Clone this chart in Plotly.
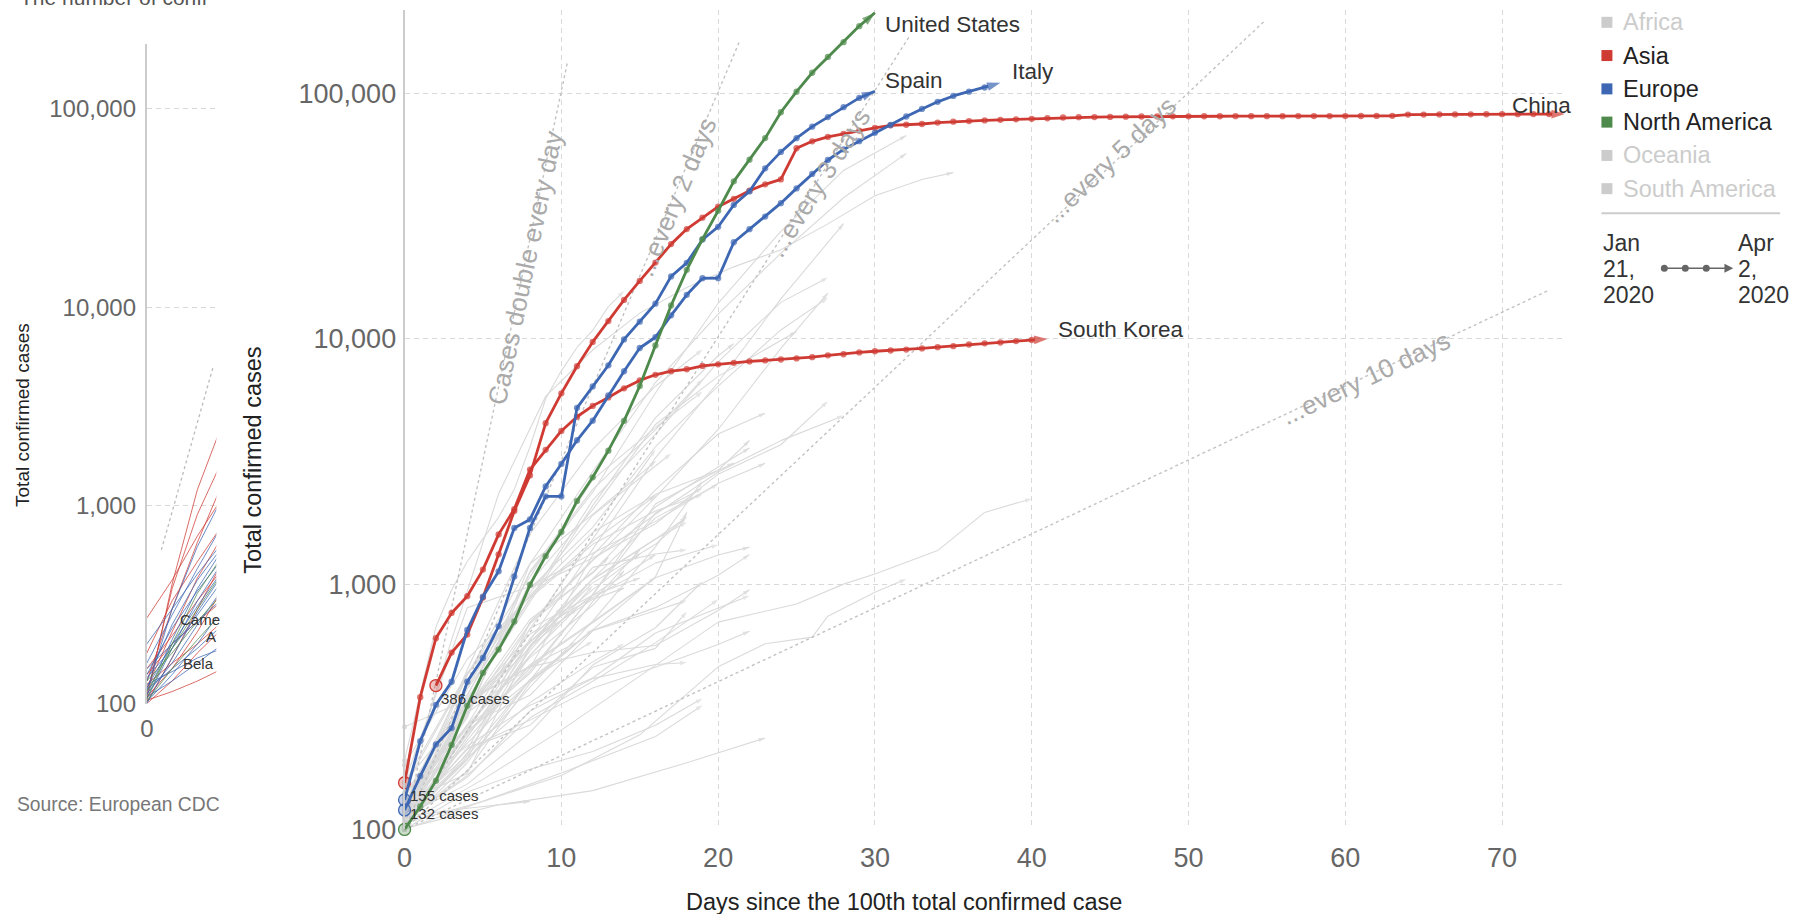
import math
import plotly.graph_objects as go

# ---------------------------------------------------------------- data
x_tick_vals = [0, 10, 20, 30, 40, 50, 60, 70]
y_tick_vals = [100, 1000, 10000, 100000]
y_tick_text = ["100", "1,000", "10,000", "100,000"]

china_start_day = 2
china_cases = [386, 526, 623, 882, 1323, 1988, 2775, 4528, 5994, 7734,
               9714, 11809, 14399, 17211, 20448, 24320, 28018, 31161, 34546, 37198,
               40171, 42638, 44653, 59804, 63851, 66492, 68500, 70548, 72436, 74185,
               74576, 75077, 76119, 76767, 77150, 77658, 78064, 78497, 78824, 79251,
               79824, 80026, 80151, 80270, 80409, 80552, 80651, 80695, 80735, 80754,
               80778, 80793, 80813, 80824, 80844, 80860, 80881, 80894, 80928, 80967,
               81008, 81054, 82020, 82078, 82130, 82180, 82230, 82280, 82330, 82370,
               82400, 82430, 82460]
south_korea_cases = [155, 346, 602, 763, 893, 1146, 1595, 2022, 2931, 3526,
                     4212, 4812, 5328, 5766, 6284, 6767, 7134, 7382, 7513, 7755,
                     7869, 7979, 8086, 8162, 8236, 8320, 8413, 8565, 8652, 8799,
                     8897, 8961, 9037, 9137, 9241, 9332, 9478, 9583, 9661, 9786,
                     9887, 9976]
italy_cases = [132, 229, 322, 400, 650, 888, 1128, 1694, 1835, 2502,
               3089, 3858, 4636, 5883, 7375, 9172, 10149, 12462, 15113, 17660,
               17660, 24747, 27980, 31506, 35713, 41035, 47021, 53578, 59138, 63927,
               69176, 74386, 80589, 86498, 92472, 97689, 101739, 105792, 110574]
spain_cases = [120, 165, 222, 259, 400, 500, 673, 1073, 1695, 2277,
               2277, 5232, 6391, 7798, 9942, 11748, 13910, 17963, 20410, 25374,
               28603, 35136, 39885, 49515, 57786, 65719, 73235, 80110, 87956, 95923,
               102136]
united_states_cases = [100, 124, 158, 221, 319, 435, 541, 704, 994, 1301,
                       1631, 2183, 2726, 3499, 4632, 6421, 9400, 13680, 19101, 25489,
                       33276, 43847, 53740, 65778, 83836, 101657, 121478, 140886, 161807, 188172,
                       213372]
start_labels = {"China": "386 cases", "South Korea": "155 cases", "Italy": "132 cases"}

# other countries (grey background): (days since 100th case, cases)
background_countries = {
    "Germany": ([0, 4, 8, 12, 16, 20, 24, 28, 32], [117, 349, 1112, 2369, 6012, 13957, 27436, 48582, 67366]),
    "France": ([0, 4, 8, 12, 16, 20, 24, 28, 32], [130, 285, 1209, 2876, 6633, 12612, 22302, 37575, 56989]),
    "Iran": ([0, 3, 6, 9, 12, 15, 18, 21, 24, 27, 30, 33, 35],
             [139, 593, 2336, 5823, 9000, 12729, 16169, 19644, 23049, 29406, 38309, 44605, 47593]),
    "United Kingdom": ([0, 4, 8, 12, 16, 20, 24, 28], [116, 319, 590, 1391, 3269, 6650, 14543, 29474]),
    "Switzerland": ([0, 4, 8, 12, 16, 20, 24, 27], [114, 374, 868, 2200, 4075, 8060, 14076, 17768]),
    "Netherlands": ([0, 4, 8, 12, 16, 20, 24, 27], [128, 382, 959, 1705, 3631, 6412, 10866, 14697]),
    "Belgium": ([0, 4, 8, 12, 16, 20, 24, 27], [109, 267, 689, 1243, 2257, 4269, 9134, 15348]),
    "Austria": ([0, 4, 8, 12, 16, 20, 25], [104, 302, 1018, 2013, 4474, 7029, 10711]),
    "Turkey": ([0, 1, 2, 3, 4, 5, 6, 7, 8, 9, 10, 11, 12, 13, 14],
               [191, 359, 670, 947, 1236, 1529, 1872, 2433, 3629, 5698, 7402, 9217, 10827, 13531, 15679]),
    "Canada": ([0, 4, 8, 12, 16, 20, 21], [103, 341, 846, 2088, 4757, 8527, 9560]),
    "Portugal": ([0, 4, 8, 12, 16, 19], [112, 448, 1600, 3544, 6408, 9034]),
    "Brazil": ([0, 4, 8, 12, 16, 19], [121, 291, 1128, 2433, 4256, 6836]),
    "Israel": ([0, 4, 8, 12, 16, 19], [126, 427, 1071, 2666, 4347, 6092]),
    "Australia": ([0, 4, 8, 12, 16, 20, 23], [107, 249, 454, 1314, 2423, 4093, 4976]),
    "Norway": ([0, 4, 8, 12, 16, 20, 24, 28], [108, 192, 702, 1256, 1926, 2866, 3845, 4863]),
    "Sweden": ([0, 4, 8, 12, 16, 20, 24, 27], [137, 355, 961, 1279, 1763, 2806, 3700, 5568]),
    "Denmark": ([0, 4, 8, 12, 16, 20, 23], [156, 801, 977, 1337, 1802, 2577, 3107]),
    "Malaysia": ([0, 4, 8, 12, 16, 20, 21], [149, 428, 900, 1624, 2320, 2908, 3116]),
    "Japan": ([0, 5, 10, 15, 20, 25, 28, 30, 34, 37, 40],
              [105, 160, 254, 420, 700, 830, 1000, 1100, 1370, 1960, 2230]),
    "Singapore": ([0, 5, 10, 15, 20, 23, 26, 27, 30, 32], [106, 130, 166, 243, 460, 571, 608, 740, 926, 1049]),
    "Czechia": ([0, 4, 8, 12, 16, 20, 22], [116, 298, 694, 1120, 2062, 3001, 3589]),
    "Ireland": ([0, 4, 8, 12, 16, 20, 22], [129, 169, 557, 906, 2121, 2910, 3849]),
    "Chile": ([0, 4, 8, 12, 16, 17], [155, 434, 922, 1909, 3031, 3404]),
    "Ecuador": ([0, 4, 8, 12, 16], [111, 426, 1211, 1924, 3163]),
    "Poland": ([0, 4, 8, 12, 16, 20], [103, 238, 536, 1051, 1862, 2554]),
    "Romania": ([0, 4, 8, 12, 16, 19], [123, 260, 433, 906, 1952, 2460]),
    "Luxembourg": ([0, 4, 8, 12, 16, 19], [135, 335, 875, 1453, 1988, 2319]),
    "Russia": ([0, 4, 8, 12, 16], [114, 253, 658, 1534, 3548]),
    "Philippines": ([0, 4, 8, 12, 16, 19], [111, 193, 380, 707, 1418, 2633]),
    "Pakistan": ([0, 4, 8, 12, 16], [183, 495, 887, 1495, 2291]),
    "Saudi Arabia": ([0, 4, 8, 12, 16, 18], [103, 238, 562, 1012, 1453, 1885]),
    "Thailand": ([0, 4, 8, 12, 16, 18], [114, 212, 599, 1045, 1524, 1875]),
    "Finland": ([0, 4, 8, 12, 16, 20], [155, 319, 626, 880, 1218, 1446]),
    "Greece": ([0, 4, 8, 12, 16, 20, 22], [117, 331, 464, 695, 1061, 1314, 1415]),
    "Indonesia": ([0, 4, 8, 12, 16, 18], [117, 309, 579, 1046, 1528, 1790]),
    "India": ([0, 4, 8, 12, 16, 18], [107, 173, 396, 649, 1071, 1965]),
    "South Africa": ([0, 4, 8, 12, 16, 18], [116, 202, 554, 1170, 1326, 1380]),
    "Mexico": ([0, 4, 8, 12, 15], [118, 251, 405, 848, 1378]),
    "Peru": ([0, 4, 8, 12, 15], [117, 318, 580, 950, 1323]),
    "Iceland": ([0, 4, 8, 12, 16, 20, 22], [103, 199, 409, 648, 802, 1086, 1319]),
    "Slovenia": ([0, 4, 8, 12, 16, 20, 22], [141, 219, 321, 414, 632, 802, 897]),
    "Estonia": ([0, 4, 8, 12, 16, 18], [115, 267, 352, 645, 779, 858]),
    "Qatar": ([0, 4, 8, 12, 16, 20, 22], [262, 337, 460, 526, 562, 781, 949]),
    "Bahrain": ([0, 4, 8, 12, 16, 20, 22], [110, 214, 279, 377, 458, 567, 643]),
    "Egypt": ([0, 4, 8, 12, 16, 20], [109, 166, 285, 402, 576, 865]),
    "Kuwait": ([0, 4, 8, 12, 16, 19], [100, 142, 176, 208, 266, 342]),
    "Iraq": ([0, 4, 8, 12, 16, 18], [110, 214, 266, 458, 547, 772]),
    "Lebanon": ([0, 4, 8, 12, 16, 18], [110, 163, 304, 412, 470, 479]),
    "Argentina": ([0, 4, 8, 12, 14], [128, 266, 502, 820, 1133]),
    "Colombia": ([0, 4, 8, 12, 16], [102, 231, 470, 702, 1065]),
    "Dominican Republic": ([0, 4, 8, 12, 13], [112, 312, 719, 1109, 1284]),
    "Panama": ([0, 4, 8, 12, 16], [109, 245, 443, 901, 1317]),
    "United Arab Emirates": ([0, 4, 8, 12, 16, 19], [113, 153, 248, 468, 664, 1024]),
    "Croatia": ([0, 4, 8, 12, 14], [105, 254, 586, 867, 963]),
    "Serbia": ([0, 4, 8, 12, 15], [103, 249, 659, 900, 1060]),
    "Hungary": ([0, 4, 8, 12], [103, 187, 408, 585]),
    "Algeria": ([0, 4, 8, 12], [139, 264, 511, 986]),
    "Morocco": ([0, 4, 8, 12], [115, 225, 402, 654]),
    "Ukraine": ([0, 4, 8, 10], [113, 310, 549, 804]),
    "Taiwan": ([0, 5, 10, 16, 19], [100, 130, 170, 239, 321]),
    "San Marino": ([0, 6, 12, 18, 23], [101, 126, 144, 187, 236]),
    "Vietnam": ([0, 4, 8], [113, 122, 130]),
    "Lithuania": ([0, 4, 8, 11], [131, 299, 460, 581]),
    "Armenia": ([0, 4, 8, 12, 14], [115, 194, 329, 482, 571]),
    "New Zealand": ([0, 4, 8, 11], [102, 205, 514, 797]),
}

# doubling-time guide lines
guide_labels = ["Cases double every day", "...every 2 days", "...every 3 days", "...every 5 days", "...every 10 days"]
guide_end_days = [10.4, 21.4, 32.2, 54.8, 73.0]
guide_end_values = [135000, 165000, 171000, 196000, 15800]
guide_label_days = [7.7, 17.3, 26.4, 45.0, 61.3]
guide_label_values = [19400, 38000, 43300, 53600, 6900]

# legend
continents = ["Africa", "Asia", "Europe", "North America", "Oceania", "South America"]
continent_shown = [False, True, True, True, False, False]
timeline_start = ["Jan", "21,", "2020"]
timeline_end = ["Apr", "2,", "2020"]

# partially hidden small chart on the left (days 0..6)
ghost_days = [0, 2, 4, 6]
ghost_red = [[105, 400, 1200, 2600], [110, 380, 900, 1700], [270, 420, 700, 1100], [130, 300, 650, 1300],
             [180, 330, 520, 800], [120, 230, 430, 700], [102, 170, 300, 520], [150, 220, 330, 480],
             [108, 150, 230, 380], [125, 160, 200, 260], [104, 115, 130, 150], [140, 200, 260, 330],
             [100, 130, 180, 240]]
ghost_blue = [[115, 300, 620, 1100], [160, 280, 480, 800], [200, 300, 450, 650], [130, 250, 420, 620],
              [110, 210, 380, 600], [140, 240, 370, 540], [105, 190, 330, 520], [120, 200, 310, 470],
              [100, 170, 290, 450], [135, 190, 280, 420], [112, 160, 250, 380], [150, 200, 260, 340],
              [102, 140, 200, 300], [118, 150, 190, 250], [108, 130, 160, 200], [125, 145, 170, 190]]
ghost_green = [[106, 200, 360, 560], [115, 190, 300, 460], [130, 180, 260, 360], [103, 150, 210, 290]]
ghost_guide_days = [1.15, 5.25]
ghost_guide_values = [596, 5000]
ghost_labels = ["Came", "A", "Bela"]

# ---------------------------------------------------------------- styling / layout
W, H = 1795, 930
FONT = "Liberation Sans, Arial, Helvetica, sans-serif"
RED, BLUE, GREEN = "#cf3a33", "#3d67b3", "#4e8a4b"
GREY_LINE = "#dadada"
FADED = "#cccccc"
continent_colors = [FADED, RED, BLUE, GREEN, FADED, FADED]

# the capture maps a page pixel (x, y) to about (KX*x + BX, KY*y); positions below are target
# (picture) pixels and are converted back to page pixels
KX, BX, KY = 0.9969, 6.4, 0.983


def dxp(x):
    return (x - BX) / KX


def dyp(y):
    return y / KY


def px(x):
    return dxp(x) / W


def py(y):
    return 1 - dyp(y) / H


# main plot geometry (target pixels)
X0, PX_DAY, XMAX = 403.5, 15.7, 74
Y100, PX_DEC, YTOP = 828.7, 245.1, 10
# ghost geometry
GX0, GX1, GXMAX = 145.4, 215.0, 5.5
GY100, GPX_DEC, GYTOP = 703.0, 198.07, 43.7


def rgba(hexcol, a):
    h = hexcol.lstrip("#")
    return "rgba(%d,%d,%d,%.2f)" % (int(h[0:2], 16), int(h[2:4], 16), int(h[4:6], 16), a)


fig = go.Figure()

# ---- ghost chart (left, partially hidden)
for group, col in ((ghost_red, rgba(RED, 0.75)), (ghost_blue, rgba(BLUE, 0.75)), (ghost_green, rgba(GREEN, 0.75))):
    for vals in group:
        fig.add_trace(go.Scatter(x=ghost_days, y=vals, mode="lines", xaxis="x2", yaxis="y2",
                                 line=dict(color=col, width=1), hoverinfo="skip", showlegend=False))
fig.add_trace(go.Scatter(x=ghost_guide_days, y=ghost_guide_values, mode="lines", xaxis="x2", yaxis="y2",
                         line=dict(color="#bbbbbb", width=1.3, dash="dot"), hoverinfo="skip", showlegend=False))

# ---- background countries
start_x, start_y = [], []
for name, (d, v) in background_countries.items():
    n = len(d)
    fig.add_trace(go.Scatter(
        x=d, y=v, mode="lines+markers", name=name,
        line=dict(color=GREY_LINE, width=1.1),
        marker=dict(symbol=["circle"] * (n - 1) + ["arrow"], size=[0] * (n - 1) + [7],
                    angleref="previous", color=GREY_LINE, line=dict(width=0)),
        hoverinfo="skip", showlegend=False))
    start_x.append(d[0])
    start_y.append(v[0])
fig.add_trace(go.Scatter(x=start_x, y=start_y, mode="markers", marker=dict(size=5, color=GREY_LINE),
                         hoverinfo="skip", showlegend=False, cliponaxis=False))

# ---- doubling guides
pxday_page = PX_DAY / KX
pxdec_page = PX_DEC / KY
for lab, ed, ev, ld, lv in zip(guide_labels, guide_end_days, guide_end_values, guide_label_days, guide_label_values):
    fig.add_trace(go.Scatter(x=[0, ed], y=[100, ev], mode="lines",
                             line=dict(color="#c2c2c2", width=1.4, dash="dot"),
                             hoverinfo="skip", showlegend=False))
    slope = (math.log10(ev) - 2) / ed * pxdec_page / pxday_page
    ang = -math.degrees(math.atan(slope))
    fig.add_annotation(x=ld, y=math.log10(lv), xref="x", yref="y", text=lab, showarrow=False,
                       textangle=ang, font=dict(size=26, color="#aaaaaa", family=FONT))

# ---- highlighted countries
series = [
    ("China", RED, list(range(china_start_day, china_start_day + len(china_cases))), china_cases),
    ("South Korea", RED, list(range(len(south_korea_cases))), south_korea_cases),
    ("Italy", BLUE, list(range(len(italy_cases))), italy_cases),
    ("Spain", BLUE, list(range(len(spain_cases))), spain_cases),
    ("United States", GREEN, list(range(len(united_states_cases))), united_states_cases),
]

for name, col, d, v in series:
    n = len(d)
    fig.add_trace(go.Scatter(
        x=d, y=v, mode="lines+markers", name=name,
        line=dict(color=col, width=2.8),
        marker=dict(symbol=["circle"] * (n - 1) + ["arrow"], size=[6.3] * (n - 1) + [14],
                    angleref="previous", color=col, line=dict(width=0)),
        cliponaxis=False, hoverinfo="skip", showlegend=False))
    fig.add_trace(go.Scatter(
        x=[d[0]], y=[v[0]], mode="markers",
        marker=dict(size=12, color=rgba(col, 0.3), line=dict(color=col, width=1.3)),
        cliponaxis=False, hoverinfo="skip", showlegend=False))

# series end labels (shifts in target pixels)
label_offsets = {"China": (8, 8, "right"), "South Korea": (9, 9, "left"), "Italy": (10, 11, "left"),
                 "Spain": (8, 11, "left"), "United States": (8, -12, "left")}
for name, col, d, v in series:
    ox, oy, anc = label_offsets[name]
    fig.add_annotation(x=d[-1], y=math.log10(v[-1]), xref="x", yref="y", text=name, showarrow=False,
                       xanchor=anc, yanchor="middle", xshift=ox / KX, yshift=oy / KY,
                       font=dict(size=22.5, color="#333333", family=FONT))
    if name in start_labels:
        fig.add_annotation(x=d[0], y=math.log10(v[0]), xref="x", yref="y", text=start_labels[name],
                           showarrow=False, xanchor="left", yanchor="middle", xshift=3 / KX, yshift=-13 / KY,
                           font=dict(size=15, color="#333333", family=FONT))

# ---- axis titles
fig.add_annotation(x=px(903.6), y=py(901.7), xref="paper", yref="paper",
                   text="Days since the 100th total confirmed case",
                   showarrow=False, yanchor="middle", font=dict(size=23.5, color="#222222", family=FONT))
fig.add_annotation(x=px(252), y=py(460), xref="paper", yref="paper", text="Total confirmed cases",
                   showarrow=False, textangle=-90, xanchor="center", yanchor="middle",
                   font=dict(size=23.5, color="#222222", family=FONT))

# ghost texts
fig.add_annotation(x=px(21), y=py(415), xref="paper", yref="paper", text="Total confirmed cases",
                   showarrow=False, textangle=-90, xanchor="center", yanchor="middle",
                   font=dict(size=19, color="#222222", family=FONT))
fig.add_annotation(x=px(13), y=py(804), xref="paper", yref="paper", text="Source: European CDC",
                   showarrow=False, xanchor="left", yanchor="middle", font=dict(size=19.3, color="#777777", family=FONT))
fig.add_annotation(x=px(16), y=py(-2), xref="paper", yref="paper", text="The number of confi",
                   showarrow=False, xanchor="left", yanchor="middle", font=dict(size=21, color="#555555", family=FONT))
ghost_label_px = [(176.7, 619), (203, 636), (180, 663)]
for txt, (gx, gy) in zip(ghost_labels, ghost_label_px):
    fig.add_annotation(x=px(gx), y=py(gy), xref="paper", yref="paper", text=txt, showarrow=False,
                       xanchor="left", yanchor="middle", font=dict(size=15, color="#333333", family=FONT))

# ---- legend (manual)
leg_y = [22.3, 55.5, 88.8, 122.0, 155.3, 188.5]
for name, col, shown, yy in zip(continents, continent_colors, continent_shown, leg_y):
    fig.add_shape(type="rect", xref="paper", yref="paper", x0=px(1602), x1=px(1613), y0=py(yy + 5.5), y1=py(yy - 5.5),
                  fillcolor=col, line=dict(width=0))
    fig.add_annotation(x=px(1622), y=py(yy), xref="paper", yref="paper", text=name, showarrow=False,
                       xanchor="left", yanchor="middle",
                       font=dict(size=23.5, color="#222222" if shown else "#cccccc", family=FONT))
fig.add_shape(type="line", xref="paper", yref="paper", x0=px(1602), x1=px(1781), y0=py(213), y1=py(213),
              line=dict(color="#cccccc", width=2))
for i, (a, b) in enumerate(zip(timeline_start, timeline_end)):
    yy = 243 + 26 * i
    fig.add_annotation(x=px(1602), y=py(yy), xref="paper", yref="paper", text=a, showarrow=False,
                       xanchor="left", yanchor="middle", font=dict(size=23, color="#333333", family=FONT))
    fig.add_annotation(x=px(1737), y=py(yy), xref="paper", yref="paper", text=b, showarrow=False,
                       xanchor="left", yanchor="middle", font=dict(size=23, color="#333333", family=FONT))
fig.add_annotation(x=px(1734), y=py(268), xref="paper", yref="paper", ax=-70, ay=0, text="",
                   showarrow=True, arrowhead=2, arrowsize=1.1, arrowwidth=1.6, arrowcolor="#666666", standoff=0)
for cx in (1665, 1686, 1707):
    fig.add_shape(type="circle", xref="paper", yref="paper", x0=px(cx - 3.5), x1=px(cx + 3.5),
                  y0=py(268 + 3.5), y1=py(268 - 3.5), fillcolor="#666666", line=dict(width=0))

# ---------------------------------------------------------------- axes
grid = dict(showgrid=True, gridcolor="#d9d9d9", gridwidth=1.2, griddash="5px,4px")
fig.update_layout(
    width=W, height=H, margin=dict(l=0, r=0, t=0, b=0, pad=0),
    paper_bgcolor="white", plot_bgcolor="rgba(0,0,0,0)", showlegend=False,
    font=dict(family=FONT),
    xaxis=dict(domain=[px(X0), px(X0 + XMAX * PX_DAY)], range=[0, XMAX], tickvals=x_tick_vals,
               zeroline=False, showline=False, ticks="", ticklabelstandoff=10,
               tickfont=dict(size=27, color="#666666"), **grid),
    yaxis=dict(domain=[py(Y100), py(YTOP)], type="log", range=[2, 2 + (Y100 - YTOP) / PX_DEC],
               tickvals=y_tick_vals, ticktext=y_tick_text, zeroline=False,
               showline=True, linecolor="#cccccc", linewidth=2, ticks="", ticklabelstandoff=1,
               tickfont=dict(size=27, color="#666666"), **grid),
    xaxis2=dict(domain=[px(GX0), px(GX1)], range=[0, GXMAX], tickvals=[0], anchor="y2",
                zeroline=False, showline=False, ticks="", ticklabelstandoff=8,
                tickfont=dict(size=24, color="#666666"), **grid),
    yaxis2=dict(domain=[py(GY100), py(GYTOP)], type="log", range=[2, 2 + (GY100 - GYTOP) / GPX_DEC],
                anchor="x2", tickvals=y_tick_vals, ticktext=y_tick_text, zeroline=False,
                showline=True, linecolor="#cccccc", linewidth=2, ticks="", ticklabelstandoff=4,
                tickfont=dict(size=24, color="#666666"), **grid),
)

reset_js = (
    "var s=document.createElement('style');"
    "s.innerHTML='html,body{margin:0!important;padding:0!important;}';"
    "document.head.appendChild(s);"
)
fig.write_html("out.html", config={"displayModeBar": False}, post_script=reset_js)
